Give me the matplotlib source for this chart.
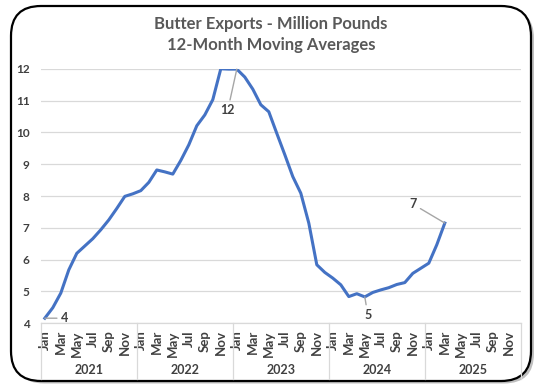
"""Butter exports, 12-month moving average, redrawn in matplotlib."""

import matplotlib
matplotlib.use("Agg")
import matplotlib.pyplot as plt
import matplotlib.transforms as mtransforms
from matplotlib.patches import FancyBboxPatch

# data (million pounds, Jan 2021 .. Mar 2025)
years = ["2021", "2022", "2023", "2024", "2025"]
month_names = ["Jan", "Feb", "Mar", "Apr", "May", "Jun",
               "Jul", "Aug", "Sep", "Oct", "Nov", "Dec"]
exports = [
    4.16, 4.49, 4.95, 5.68, 6.20, 6.43, 6.66, 6.94, 7.25, 7.61, 7.99, 8.07,
    8.17, 8.43, 8.82, 8.76, 8.69, 9.12, 9.61, 10.21, 10.55, 11.03, 12.00, 11.99,
    11.99, 11.74, 11.36, 10.87, 10.65, 9.97, 9.30, 8.61, 8.09, 7.15, 5.84, 5.60,
    5.42, 5.21, 4.84, 4.93, 4.83, 4.97, 5.05, 5.12, 5.22, 5.28, 5.57, 5.73,
    5.89, 6.47, 7.15,
]
# which points get a data label, and where the label sits (pixels from point)
label_idx = [0, 24, 40, 50]
label_offsets = [(20, 0), (-9, -41), (3, -18), (-32, 19)]

LINE = "#4472C4"
TEXT = "#595959"
TICK = "#404040"
GRID = "#D9D9D9"

fig = plt.figure(figsize=(5.42, 3.92), dpi=100)
plt.rcParams["font.family"] = ["Lato", "DejaVu Sans"]

# rounded frame with a soft shadow
shadow = FancyBboxPatch((0.14, 0.085), 5.20, 3.75,
                        boxstyle="round,pad=0,rounding_size=0.3",
                        transform=fig.dpi_scale_trans, facecolor="#BFBFBF",
                        edgecolor="none", zorder=-3)
frame = FancyBboxPatch((0.11, 0.11), 5.20, 3.75,
                       boxstyle="round,pad=0,rounding_size=0.3",
                       transform=fig.dpi_scale_trans, facecolor="white",
                       edgecolor="black", linewidth=1.6, zorder=-2)
fig.add_artist(shadow)
fig.add_artist(frame)

ax = fig.add_axes([40.8 / 542, 68.7 / 392, 480 / 542, 254.5 / 392])
ax.patch.set_alpha(0)

n_months = len(years) * 12
x = list(range(len(exports)))
ax.plot(x, exports, color=LINE, linewidth=2.2, solid_joinstyle="round", zorder=3)

ax.set_xlim(-0.5, n_months - 0.5)
ax.set_ylim(4, 12)
ax.set_yticks(range(4, 13))
ax.grid(axis="y", color=GRID, linewidth=0.9)
ax.set_axisbelow(True)
for side in ("top", "right", "left"):
    ax.spines[side].set_visible(False)
ax.spines["bottom"].set_color(GRID)
ax.spines["bottom"].set_linewidth(0.9)

ticks = list(range(0, n_months, 2))
ax.set_xticks(ticks)
ax.set_xticklabels([month_names[t % 12] for t in ticks], rotation=90,
                   fontsize=9.5, fontweight="bold", color=TICK)
shift = mtransforms.ScaledTranslation(2 / 100, 0, fig.dpi_scale_trans)
for lab in ax.get_xticklabels():
    lab.set_transform(lab.get_transform() + shift)
ax.tick_params(axis="x", length=0, pad=5)
ax.tick_params(axis="y", length=0, pad=8, labelsize=8.5, labelcolor=TICK)
for lab in ax.get_yticklabels():
    lab.set_fontweight("bold")

# year groups under the month labels
trans = mtransforms.blended_transform_factory(ax.transData, ax.transAxes)
for k, yr in enumerate(years):
    ax.text(k * 12 + 5.5, -0.185, yr, transform=trans, ha="center", va="center",
            fontsize=9, fontweight="bold", color=TICK)
for k in range(len(years) + 1):
    ax.plot([k * 12 - 0.5] * 2, [0, -0.22], transform=trans, color=GRID,
            linewidth=0.9, clip_on=False)

for i, (dx, dy) in zip(label_idx, label_offsets):
    ax.annotate(f"{round(exports[i])}", xy=(i, exports[i]), xytext=(dx, dy),
                textcoords="offset pixels", ha="center", va="center",
                fontsize=9, fontweight="bold", color="#404040",
                arrowprops=dict(arrowstyle="-", color="#A6A6A6", lw=1,
                                shrinkA=1, shrinkB=0))

fig.text(0.5, 1 - 16 / 392, "Butter Exports - Million Pounds\n12-Month Moving Averages",
         ha="center", va="top", fontsize=12, fontweight="bold", color=TEXT,
         linespacing=1.4)

fig.savefig("out.png", dpi=100)
